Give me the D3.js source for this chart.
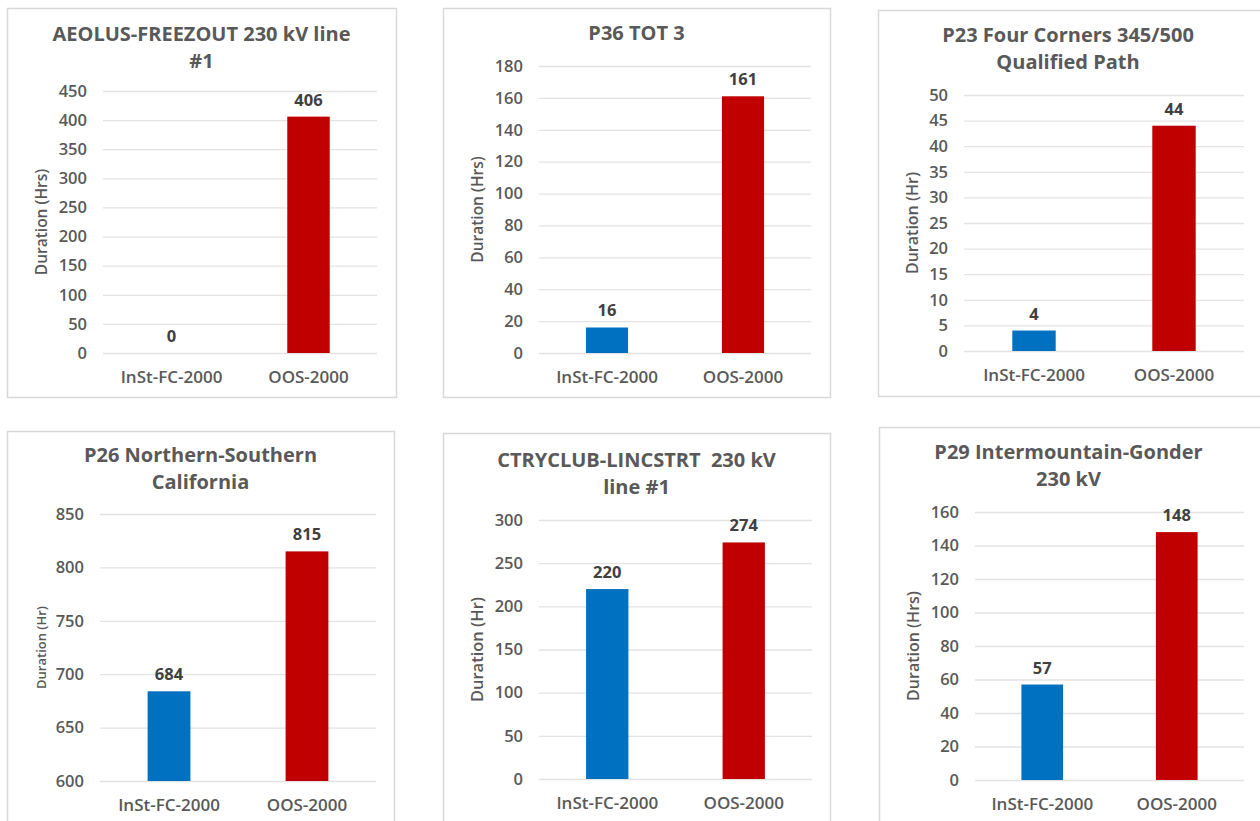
<!DOCTYPE html>
<html>
<head>
<meta charset="utf-8">
<script src="https://cdn.jsdelivr.net/npm/d3@7"></script>
<style>
  html, body { margin: 0; padding: 0; background: #fff; }
  svg { display: block; }
  text { font-family: "Open Sans", "Noto Sans", sans-serif; }
</style>
</head>
<body>
<svg id="chart" width="1260" height="821"></svg>
<script>
// ---- data ----
const categories = ["InSt-FC-2000", "OOS-2000"];

const titles = [
  ["AEOLUS-FREEZOUT 230 kV line", "#1"],
  ["P36 TOT 3"],
  ["P23 Four Corners 345/500", "Qualified Path"],
  ["P26 Northern-Southern", "California"],
  ["CTRYCLUB-LINCSTRT  230 kV", "line #1"],
  ["P29 Intermountain-Gonder", "230 kV"]
];

const axisTitles = [
  "Duration (Hrs)", "Duration (Hrs)", "Duration (Hr)",
  "Duration (Hr)", "Duration (Hr)", "Duration (Hrs)"
];

const instValues = [0, 16, 4, 684, 220, 57];
const oosValues  = [406, 161, 44, 815, 274, 148];

const yMins  = [0, 0, 0, 600, 0, 0];
const yMaxes = [450, 180, 50, 850, 300, 160];
const ySteps = [50, 20, 5, 50, 50, 20];

// ---- layout (per panel) ----
// box: panel frame; plot: plotting area; titleY: centre of the first title line
const layout = [
  { box: [7, 8, 396, 397],     plot: [103, 377, 91, 353],  titleY: 34,  ytX: 42,  ytSize: 15.5 },
  { box: [443, 8, 830, 397],   plot: [539, 811, 66, 353],  titleY: 33,  ytX: 478, ytSize: 15.5 },
  { box: [878, 10, 1275, 396], plot: [964, 1244, 95, 351], titleY: 35,  ytX: 912, ytSize: 16 },
  { box: [7, 431, 394, 840],   plot: [100, 376, 514, 781], titleY: 455, ytX: 41,  ytSize: 13 },
  { box: [443, 433, 830, 840], plot: [539, 812, 520, 779], titleY: 460, ytX: 477, ytSize: 16.5 },
  { box: [879, 427, 1275, 840],plot: [975, 1244, 512, 780],titleY: 452, ytX: 913, ytSize: 16 }
];

const colors = { inst: "#0070C0", oos: "#C00000" };

const svg = d3.select("#chart");

layout.forEach((L, i) => {
  const g = svg.append("g");
  const [bx0, by0, bx1, by1] = L.box;
  const [px0, px1, py0, py1] = L.plot;

  // frame
  g.append("rect")
    .attr("x", bx0 + 0.5).attr("y", by0 + 0.5)
    .attr("width", bx1 - bx0).attr("height", by1 - by0)
    .attr("fill", "#fff").attr("stroke", "#d9d9d9").attr("stroke-width", 1.5);

  const x = d3.scaleBand().domain(categories).range([px0, px1])
    .paddingInner(0.69).paddingOuter(0.345);
  const y = d3.scaleLinear().domain([yMins[i], yMaxes[i]]).range([py1, py0]);
  const ticks = d3.range(yMins[i], yMaxes[i] + ySteps[i] / 2, ySteps[i]);

  // gridlines + tick labels via axis
  const yAxis = d3.axisLeft(y).tickValues(ticks).tickSize(-(px1 - px0)).tickPadding(16).tickFormat(d3.format("d"));
  const ya = g.append("g").attr("transform", `translate(${px0},0)`).call(yAxis);
  ya.select(".domain").remove();
  ya.selectAll(".tick line").attr("stroke", "#e3e3e3").attr("stroke-width", 1.3);
  ya.selectAll(".tick text")
    .attr("fill", "#595959").attr("font-size", 16.5).attr("font-weight", 600)
    .attr("font-family", "'Open Sans', sans-serif");

  // x axis labels
  const xAxis = d3.axisBottom(x).tickSize(0).tickPadding(18);
  const xa = g.append("g").attr("transform", `translate(0,${py1})`).call(xAxis);
  xa.select(".domain").remove();
  xa.selectAll(".tick text")
    .attr("fill", "#595959").attr("font-size", 17).attr("font-weight", 600)
    .attr("font-family", "'Open Sans', sans-serif");

  // bars
  const rows = [
    { cat: categories[0], v: instValues[i], c: colors.inst },
    { cat: categories[1], v: oosValues[i],  c: colors.oos }
  ];
  g.selectAll("rect.bar").data(rows).join("rect")
    .attr("class", "bar")
    .attr("x", d => x(d.cat))
    .attr("width", x.bandwidth())
    .attr("y", d => y(d.v))
    .attr("height", d => y(yMins[i]) - y(d.v))
    .attr("fill", d => d.c);

  // value labels
  g.selectAll("text.val").data(rows).join("text")
    .attr("class", "val")
    .attr("x", d => x(d.cat) + x.bandwidth() / 2)
    .attr("y", d => y(d.v) - 11)
    .attr("text-anchor", "middle")
    .attr("fill", "#404040").attr("font-size", 16.5).attr("font-weight", 700)
    .text(d => d.v);

  // title, centred on the visible part of the frame
  const fcx = (bx0 + Math.min(bx1, 1258)) / 2;
  titles[i].forEach((line, k) => {
    g.append("text")
      .attr("x", fcx)
      .attr("y", L.titleY + k * 26.5)
      .attr("dy", "0.35em")
      .attr("text-anchor", "middle")
      .style("white-space", "pre")
      .attr("fill", "#595959").attr("font-size", 20).attr("font-weight", 700)
      .text(line);
  });

  // y axis title
  g.append("text")
    .attr("transform", `translate(${L.ytX},${(py0 + py1) / 2}) rotate(-90)`)
    .attr("dy", "0.35em")
    .attr("text-anchor", "middle")
    .attr("fill", "#595959").attr("font-size", L.ytSize).attr("font-weight", 600)
    .text(axisTitles[i]);
});
</script>
</body>
</html>
